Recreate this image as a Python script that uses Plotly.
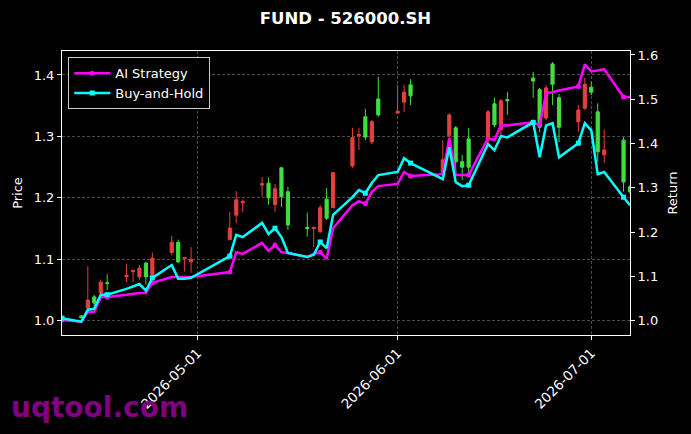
import plotly.graph_objects as go

dates = ["2026-04-10", "2026-04-13", "2026-04-14", "2026-04-15", "2026-04-16", "2026-04-17",
         "2026-04-20", "2026-04-21", "2026-04-22", "2026-04-23", "2026-04-24",
         "2026-04-27", "2026-04-28", "2026-04-29", "2026-04-30",
         "2026-05-06", "2026-05-07", "2026-05-08",
         "2026-05-11", "2026-05-12", "2026-05-13", "2026-05-14", "2026-05-15",
         "2026-05-18", "2026-05-19", "2026-05-20", "2026-05-21", "2026-05-22",
         "2026-05-25", "2026-05-26", "2026-05-27", "2026-05-28", "2026-05-29",
         "2026-06-01", "2026-06-02", "2026-06-03",
         "2026-06-08", "2026-06-09", "2026-06-10", "2026-06-11", "2026-06-12",
         "2026-06-15", "2026-06-16", "2026-06-17", "2026-06-18",
         "2026-06-22", "2026-06-23", "2026-06-24", "2026-06-25", "2026-06-26",
         "2026-06-29", "2026-06-30", "2026-07-01", "2026-07-02", "2026-07-03",
         "2026-07-06", "2026-07-07"]

open_ = [1.005, 1.008, 1.021, 1.039, 1.0455, 1.062,
         1.072, 1.080, 1.0715, 1.094, 1.075,
         1.111, 1.128, 1.101, 1.096,
         1.132, 1.172, 1.192,
         1.221, 1.224, 1.189, 1.249, 1.210,
         1.152, 1.150, 1.145, 1.198, 1.184,
         1.252, 1.301, 1.332, 1.291, 1.361,
         1.338, 1.356, 1.384,
         1.241, 1.301, 1.314, 1.259, 1.296,
         1.294, 1.353, 1.311, 1.360,
         1.395, 1.376, 1.330, 1.418, 1.363,
         1.324, 1.346, 1.380, 1.340, 1.270,
         1.294, 1.218]
high = [1.008, 1.009, 1.089, 1.042, 1.067, 1.076,
        1.093, 1.083, 1.091, 1.096, 1.111,
        1.138, 1.132, 1.104, 1.120,
        1.177, 1.211, 1.197,
        1.234, 1.233, 1.223, 1.250, 1.218,
        1.176, 1.153, 1.189, 1.216, 1.242,
        1.314, 1.314, 1.345, 1.327, 1.397,
        1.384, 1.384, 1.393,
        1.294, 1.338, 1.317, 1.270, 1.314,
        1.343, 1.363, 1.361, 1.372,
        1.405, 1.379, 1.384, 1.421, 1.369,
        1.351, 1.395, 1.389, 1.354, 1.311,
        1.299, 1.221]
low = [1.003, 1.004, 1.019, 1.018, 1.034, 1.050,
       1.063, 1.063, 1.067, 1.059, 1.070,
       1.107, 1.094, 1.080, 1.078,
       1.132, 1.159, 1.177,
       1.202, 1.189, 1.177, 1.185, 1.148,
       1.137, 1.120, 1.143, 1.164, 1.184,
       1.249, 1.278, 1.294, 1.288, 1.332,
       1.338, 1.340, 1.351,
       1.241, 1.298, 1.233, 1.229, 1.237,
       1.289, 1.315, 1.302, 1.335,
       1.363, 1.307, 1.327, 1.351, 1.291,
       1.307, 1.343, 1.367, 1.259, 1.257,
       1.210, 1.206]
close = [1.006, 1.005, 1.034, 1.029, 1.063, 1.061,
         1.074, 1.082, 1.086, 1.0715, 1.102,
         1.128, 1.096, 1.103, 1.100,
         1.151, 1.197, 1.194,
         1.223, 1.200, 1.215, 1.202, 1.156,
         1.150, 1.152, 1.184, 1.167, 1.241,
         1.298, 1.303, 1.299, 1.324, 1.335,
         1.341, 1.372, 1.366,
         1.262, 1.335, 1.259, 1.250, 1.250,
         1.340, 1.319, 1.358, 1.358,
         1.390, 1.315, 1.379, 1.385, 1.315,
         1.343, 1.385, 1.372, 1.275, 1.278,
         1.226, 1.210]

ai_strategy = [1.002, 0.998, 1.020, 1.020, 1.054, 1.054,
               1.059, 1.061, 1.063, 1.063, 1.086,
               1.099, 1.099, 1.099, 1.099,
               1.110, 1.155, 1.151,
               1.176, 1.158, 1.171, 1.155, 1.153,
               1.144, 1.151, 1.155, 1.140, 1.209,
               1.261, 1.270, 1.264, 1.291, 1.304,
               1.309, 1.336, 1.327,
               1.331, 1.412, 1.329, 1.329, 1.329,
               1.412, 1.408, 1.441, 1.441,
               1.448, 1.441, 1.514, 1.516, 1.520,
               1.529, 1.579, 1.563, 1.565, 1.568,
               1.505, 1.505]
buy_hold = [1.006, 0.998, 1.025, 1.027, 1.059, 1.059,
            1.072, 1.077, 1.083, 1.068, 1.097,
            1.126, 1.095, 1.095, 1.097,
            1.146, 1.194, 1.189,
            1.221, 1.196, 1.209, 1.189, 1.153,
            1.144, 1.149, 1.178, 1.164, 1.239,
            1.279, 1.295, 1.288, 1.311, 1.329,
            1.336, 1.367, 1.356,
            1.320, 1.392, 1.313, 1.304, 1.306,
            1.399, 1.385, 1.417, 1.414,
            1.448, 1.369, 1.441, 1.446, 1.369,
            1.401, 1.446, 1.430, 1.331, 1.336,
            1.279, 1.261]

x_ticks = ["2026-05-01", "2026-06-01", "2026-07-01"]
price_ticks = [1.0, 1.1, 1.2, 1.3, 1.4]
return_ticks = [1.0, 1.1, 1.2, 1.3, 1.4, 1.5, 1.6]

RED = "#E3413F"
GREEN = "#3FE03F"
FONT = "DejaVu Sans"

fig = go.Figure()
fig.add_trace(go.Candlestick(
    x=dates, open=open_, high=high, low=low, close=close,
    increasing=dict(line=dict(color=RED, width=1), fillcolor=RED),
    decreasing=dict(line=dict(color=GREEN, width=1), fillcolor=GREEN),
    whiskerwidth=0, showlegend=False, yaxis="y", hoverinfo="skip"))

marker_idx = list(range(0, len(dates), 5))
fig.add_trace(go.Scatter(
    x=dates, y=ai_strategy, mode="lines", name="AI Strategy",
    line=dict(color="#FF00FF", width=2.5), yaxis="y2", showlegend=False))
fig.add_trace(go.Scatter(
    x=[dates[i] for i in marker_idx], y=[ai_strategy[i] for i in marker_idx],
    mode="markers", marker=dict(color="#FF00FF", size=5, symbol="circle"),
    yaxis="y2", showlegend=False))
fig.add_trace(go.Scatter(
    x=dates, y=buy_hold, mode="lines", name="Buy-and-Hold",
    line=dict(color="#00FFFF", width=2.5), yaxis="y2", showlegend=False))
fig.add_trace(go.Scatter(
    x=[dates[i] for i in marker_idx], y=[buy_hold[i] for i in marker_idx],
    mode="markers", marker=dict(color="#00FFFF", size=5, symbol="square"),
    yaxis="y2", showlegend=False))
# legend entries
fig.add_trace(go.Scatter(x=[None], y=[None], mode="lines+markers", name="AI Strategy",
                         line=dict(color="#FF00FF", width=2.5),
                         marker=dict(color="#FF00FF", size=5, symbol="circle"), yaxis="y2"))
fig.add_trace(go.Scatter(x=[None], y=[None], mode="lines+markers", name="Buy-and-Hold",
                         line=dict(color="#00FFFF", width=2.5),
                         marker=dict(color="#00FFFF", size=5, symbol="square"), yaxis="y2"))

axis_common = dict(showline=True, linecolor="white", linewidth=1, mirror=True,
                   ticks="outside", tickcolor="white", ticklen=4, zeroline=False)

fig.update_layout(
    width=691, height=434,
    paper_bgcolor="black", plot_bgcolor="black",
    margin=dict(l=62, r=61, t=51, b=99),
    title=dict(text="FUND - 526000.SH", x=0.5, xanchor="center", y=0.958, yanchor="middle",
               font=dict(family=FONT, size=16.5, color="white", weight="bold")),
    xaxis=dict(type="date", range=["2026-04-10", "2026-07-07"], rangeslider=dict(visible=False),
               tickvals=x_ticks, ticktext=x_ticks, tickangle=-45,
               tickfont=dict(family=FONT, size=13.5, color="white"),
               showgrid=True, gridcolor="#4a4a4a", griddash="3px,2px", gridwidth=0.6,
               **axis_common),
    yaxis=dict(range=[0.977, 1.439], tickvals=price_ticks, ticktext=[f"{v:.1f}" for v in price_ticks],
               tickfont=dict(family=FONT, size=13, color="white"),
               showgrid=True, gridcolor="#4a4a4a", griddash="3px,2px", gridwidth=0.6,
               title=dict(text="Price", font=dict(family=FONT, size=13, color="white"), standoff=8),
               **axis_common),
    yaxis2=dict(range=[0.968, 1.609], overlaying="y", side="right",
                tickvals=return_ticks, ticktext=[f"{v:.1f}" for v in return_ticks],
                tickfont=dict(family=FONT, size=13, color="white"),
                showgrid=False,
                title=dict(text="Return", font=dict(family=FONT, size=13, color="white"), standoff=10),
                **axis_common),
    legend=dict(x=0.011, y=0.978, xanchor="left", yanchor="top",
                bgcolor="black", bordercolor="#cccccc", borderwidth=1,
                font=dict(family=FONT, size=13, color="white"),
                tracegroupgap=0, itemwidth=36),
    annotations=[dict(text="uqtool.com", xref="paper", yref="paper", x=-0.094, y=-0.257,
                      xanchor="left", yanchor="middle", showarrow=False,
                      font=dict(family=FONT, size=28, color="#800080", weight="bold"))],
    hovermode=False,
)

fig.write_html("out.html", config={"displayModeBar": False},
               post_script="document.body.style.margin='0px';document.body.style.padding='0px';")
